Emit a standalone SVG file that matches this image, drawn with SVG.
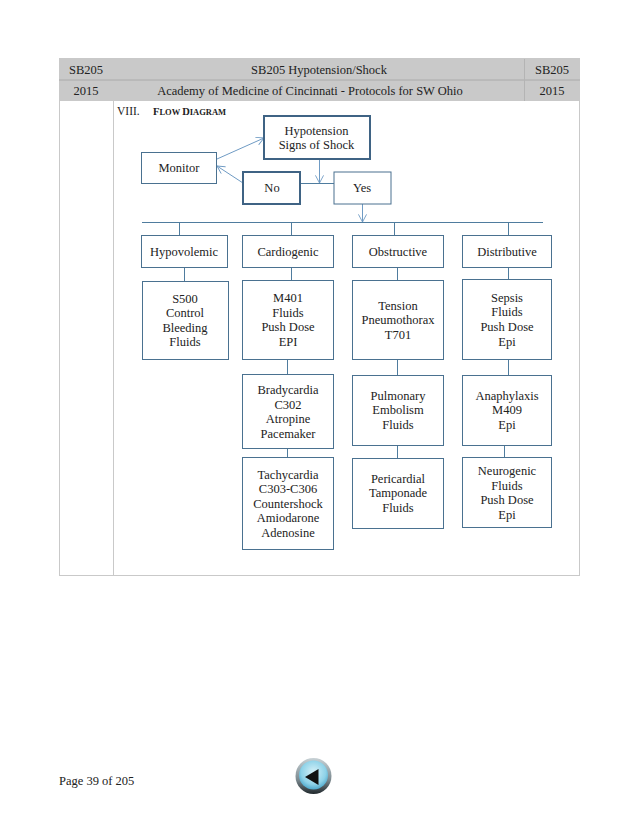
<svg xmlns="http://www.w3.org/2000/svg" width="638" height="826" viewBox="0 0 638 826">
<style>
text{font-family:"Liberation Serif","Times New Roman",serif;font-size:12.5px;fill:#222;text-anchor:middle}
.box{fill:#fff;stroke:#4a7190;stroke-width:1}
.thick{fill:#fff;stroke:#3f6384;stroke-width:2}
.grid{stroke:#c9c9c9;stroke-width:1;fill:none}
.line{stroke:#4f7c9e;stroke-width:1;fill:none}
.arrow{stroke:#6f9bc4;stroke-width:1;fill:none;marker-end:url(#open)}
.left{text-anchor:start}
</style>
<defs>
<marker id="open" viewBox="0 0 10 10" refX="9.5" refY="5" markerWidth="9" markerHeight="9" orient="auto" markerUnits="userSpaceOnUse"><path d="M1 0.5L9.5 5L1 9.5" fill="none" stroke="#6f9bc4" stroke-width="1"/></marker>
<radialGradient id="btn" cx="50%" cy="40%" r="60%"><stop offset="0" stop-color="#d6f1f8"/><stop offset="0.7" stop-color="#8ed2e8"/><stop offset="1" stop-color="#4fa9cc"/></radialGradient>
<linearGradient id="rim" x1="0" y1="0" x2="0" y2="1"><stop offset="0" stop-color="#c8d2d6"/><stop offset="0.6" stop-color="#7c8a90"/><stop offset="1" stop-color="#20282c"/></linearGradient>
</defs>
<rect width="638" height="826" fill="#fff"/>
<g id="table">
<rect x="59" y="59" width="521" height="42" fill="#c9c9c9"/>
<rect class="grid" x="59.500" y="58.500" width="520" height="517"/>
<path class="grid" d="M113.500 59V575.500"/>
<path d="M59 80H580" stroke="#aaa" fill="none"/>
<path d="M524.500 59V101" stroke="#b4b4b4" fill="none"/>
<text x="86" y="74">SB205</text>
<text x="319" y="74">SB205 Hypotension/Shock</text>
<text x="552" y="74">SB205</text>
<text x="86" y="95">2015</text>
<text x="310" y="95">Academy of Medicine of Cincinnati - Protocols for SW Ohio</text>
<text x="552" y="95">2015</text>
<text class="left" x="117" y="115" style="font-size:11.500px">VIII.</text>
<text class="left" x="153" y="115" font-weight="bold" style="font-size:10.500px"><tspan>F</tspan><tspan style="font-size:8.500px">LOW </tspan><tspan>D</tspan><tspan style="font-size:8.500px">IAGRAM</tspan></text>
</g>
<g id="connectors">
<path class="arrow" d="M217 159L264 138"/>
<path class="arrow" d="M243 183L217 166"/>
<path class="line" d="M300 183.500H334"/>
<path class="arrow" d="M319.500 159V183"/>
<path class="arrow" d="M362.500 204V222"/>
<path class="line" d="M142 222.500H543"/>
<path class="line" d="M179.500 222V235M291.500 222V235M394.500 222V235M508.500 222V235"/>
<path class="line" d="M184.500 267V281M291.500 267V280M397.500 267V280M508.500 267V279"/>
<path class="line" d="M287.500 359V374M397.500 359V375M508.500 359V375"/>
<path class="line" d="M287.500 448V457M397.500 445V458M504.500 445V457"/>
</g>
<g id="hypotension"><rect class="thick" x="264" y="116" width="106" height="43"/><text x="316.500" y="135">Hypotension</text><text x="316.500" y="149">Signs of Shock</text></g>
<g id="monitor"><rect class="box" x="141.500" y="152.500" width="75" height="31"/><text x="179" y="172">Monitor</text></g>
<g id="no"><rect class="thick" x="243" y="172" width="57" height="32"/><text x="272" y="192">No</text></g>
<g id="yes"><rect class="box" x="334" y="172" width="57" height="32"/><text x="362" y="192">Yes</text></g>
<g id="hypovolemic"><rect class="box" x="141.500" y="235.500" width="86" height="32"/><text x="184" y="256">Hypovolemic</text></g>
<g id="cardiogenic"><rect class="box" x="242.500" y="235.500" width="91" height="32"/><text x="288" y="256">Cardiogenic</text></g>
<g id="obstructive"><rect class="box" x="352.500" y="235.500" width="91" height="32"/><text x="398" y="256">Obstructive</text></g>
<g id="distributive"><rect class="box" x="462.500" y="235.500" width="89" height="32"/><text x="507" y="256">Distributive</text></g>
<g id="s500"><rect class="box" x="142.500" y="281.500" width="86" height="78"/><text x="185" y="303">S500</text><text x="185" y="317">Control</text><text x="185" y="332">Bleeding</text><text x="185" y="346">Fluids</text></g>
<g id="m401"><rect class="box" x="242.500" y="280.500" width="91" height="79"/><text x="288" y="302">M401</text><text x="288" y="317">Fluids</text><text x="288" y="331">Push Dose</text><text x="288" y="346">EPI</text></g>
<g id="tension"><rect class="box" x="352.500" y="280.500" width="91" height="79"/><text x="398" y="310">Tension</text><text x="398" y="324">Pneumothorax</text><text x="398" y="339">T701</text></g>
<g id="sepsis"><rect class="box" x="462.500" y="279.500" width="89" height="80"/><text x="507" y="302">Sepsis</text><text x="507" y="316">Fluids</text><text x="507" y="331">Push Dose</text><text x="507" y="346">Epi</text></g>
<g id="bradycardia"><rect class="box" x="242.500" y="374.500" width="91" height="74"/><text x="288" y="394">Bradycardia</text><text x="288" y="409">C302</text><text x="288" y="423">Atropine</text><text x="288" y="438">Pacemaker</text></g>
<g id="tachycardia"><rect class="box" x="242.500" y="457.500" width="91" height="92"/><text x="288" y="479">Tachycardia</text><text x="288" y="493">C303-C306</text><text x="288" y="508">Countershock</text><text x="288" y="522">Amiodarone</text><text x="288" y="537">Adenosine</text></g>
<g id="pulmonary"><rect class="box" x="352.500" y="375.500" width="91" height="70"/><text x="398" y="400">Pulmonary</text><text x="398" y="414">Embolism</text><text x="398" y="429">Fluids</text></g>
<g id="pericardial"><rect class="box" x="352.500" y="458.500" width="91" height="70"/><text x="398" y="483">Pericardial</text><text x="398" y="497">Tamponade</text><text x="398" y="512">Fluids</text></g>
<g id="anaphylaxis"><rect class="box" x="462.500" y="375.500" width="89" height="70"/><text x="507" y="400">Anaphylaxis</text><text x="507" y="414">M409</text><text x="507" y="429">Epi</text></g>
<g id="neurogenic"><rect class="box" x="462.500" y="457.500" width="89" height="70"/><text x="507" y="475">Neurogenic</text><text x="507" y="490">Fluids</text><text x="507" y="504">Push Dose</text><text x="507" y="519">Epi</text></g>
<text class="left" x="59" y="785">Page 39 of 205</text>
<g id="back-button">
<circle cx="313.500" cy="776" r="18" fill="url(#rim)"/>
<circle cx="313.500" cy="775" r="14.500" fill="url(#btn)"/>
<path d="M305 777L318.500 769V785Z" fill="#111"/>
</g>
</svg>
